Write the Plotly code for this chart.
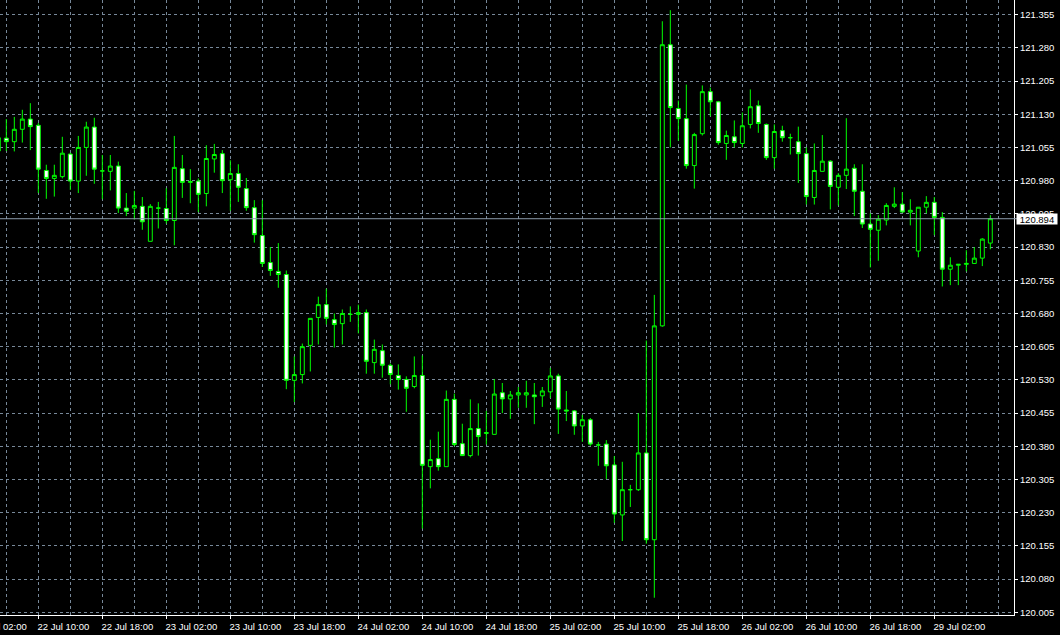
import pandas as pd
import plotly.graph_objects as go

# Hourly bars, 22 Jul 05:00 .. 26 Jul 23:00, then 29 Jul 00:00 .. 09:00 (weekend skipped)
times = list(pd.date_range("2019-07-22 05:00", "2019-07-26 23:00", freq="h")) + \
        list(pd.date_range("2019-07-29 00:00", "2019-07-29 09:00", freq="h"))

opens = [121.047, 121.076, 121.068, 121.096, 121.119, 121.105, 121.003, 120.985, 120.989, 121.040,
         120.979, 121.055, 121.101, 121.002, 121.001, 121.013, 120.918, 120.918, 120.922, 120.843,
         120.918, 120.917, 120.890, 121.007, 120.976, 120.979, 120.951, 121.029, 121.041, 120.982,
         120.996, 120.962, 120.919, 120.856, 120.795, 120.775, 120.768, 120.529, 120.542, 120.608,
         120.671, 120.700, 120.666, 120.657, 120.678, 120.678, 120.682, 120.569, 120.596, 120.563,
         120.540, 120.531, 120.515, 120.540, 120.334, 120.352, 120.334, 120.486, 120.386, 120.359,
         120.420, 120.409, 120.407, 120.501, 120.487, 120.496, 120.496, 120.496, 120.494, 120.503,
         120.539, 120.462, 120.460, 120.426, 120.440, 120.383, 120.385, 120.338, 120.225, 120.282,
         120.282, 120.365, 120.169, 120.652, 121.287, 121.143, 121.120, 121.014, 121.086, 121.181,
         121.158, 121.064, 121.079, 121.064, 121.107, 121.149, 121.107, 121.032, 121.093, 121.077,
         121.068, 121.041, 120.942, 121.001, 121.024, 120.965, 120.992, 121.008, 120.956, 120.882,
         120.868, 120.891, 120.922, 120.927, 120.909, 120.821, 120.920, 120.931, 120.897, 120.780,
         120.789, 120.791, 120.793, 120.805, 120.839]
highs = [121.090, 121.119, 121.124, 121.140, 121.155, 121.110, 121.016, 121.016, 121.079, 121.043,
         121.081, 121.113, 121.122, 121.038, 121.038, 121.023, 120.952, 120.957, 120.943, 120.927,
         120.932, 120.963, 121.081, 121.038, 121.006, 120.985, 121.060, 121.063, 121.049, 121.026,
         121.017, 120.986, 120.936, 120.936, 120.830, 120.839, 120.777, 120.583, 120.612, 120.669,
         120.718, 120.736, 120.680, 120.689, 120.696, 120.700, 120.689, 120.621, 120.610, 120.567,
         120.565, 120.538, 120.583, 120.585, 120.395, 120.413, 120.506, 120.499, 120.431, 120.486,
         120.477, 120.460, 120.532, 120.523, 120.505, 120.514, 120.528, 120.523, 120.514, 120.557,
         120.544, 120.505, 120.462, 120.451, 120.444, 120.390, 120.394, 120.358, 120.345, 120.293,
         120.455, 120.619, 120.722, 121.340, 121.365, 121.161, 121.197, 121.088, 121.195, 121.190,
         121.160, 121.093, 121.116, 121.134, 121.186, 121.161, 121.109, 121.107, 121.104, 121.086,
         121.102, 121.055, 121.064, 121.083, 121.026, 120.997, 121.121, 121.017, 121.017, 120.906,
         120.902, 120.929, 120.965, 120.954, 120.938, 120.920, 120.945, 120.943, 120.909, 120.807,
         120.791, 120.823, 120.830, 120.850, 120.902]
lows = [121.040, 121.047, 121.046, 121.066, 121.049, 120.952, 120.939, 120.944, 120.985, 120.959,
        120.952, 120.991, 120.973, 120.938, 120.958, 120.907, 120.900, 120.892, 120.869, 120.843,
        120.872, 120.883, 120.834, 120.941, 120.929, 120.909, 120.922, 120.998, 120.952, 120.912,
        120.932, 120.912, 120.840, 120.785, 120.765, 120.738, 120.509, 120.480, 120.522, 120.549,
        120.610, 120.655, 120.603, 120.610, 120.661, 120.635, 120.544, 120.544, 120.535, 120.520,
        120.508, 120.458, 120.511, 120.194, 120.285, 120.325, 120.334, 120.380, 120.359, 120.355,
        120.359, 120.384, 120.407, 120.455, 120.442, 120.467, 120.467, 120.430, 120.469, 120.489,
        120.408, 120.437, 120.406, 120.390, 120.381, 120.336, 120.306, 120.207, 120.166, 120.243,
        120.279, 120.160, 120.038, 120.650, 121.055, 121.070, 121.007, 120.962, 121.082, 121.125,
        121.061, 121.027, 121.055, 121.055, 121.098, 121.088, 121.027, 121.007, 121.068, 121.039,
        120.975, 120.926, 120.926, 121.001, 120.915, 120.924, 120.961, 120.900, 120.873, 120.784,
        120.799, 120.879, 120.918, 120.909, 120.879, 120.807, 120.906, 120.857, 120.741, 120.744,
        120.744, 120.775, 120.793, 120.787, 120.825]
closes = [121.077, 121.068, 121.096, 121.119, 121.102, 121.006, 120.985, 120.992, 121.042, 120.979,
          121.055, 121.101, 121.006, 121.002, 121.013, 120.918, 120.911, 120.924, 120.887, 120.922,
          120.918, 120.890, 121.010, 120.976, 120.978, 120.949, 121.030, 121.039, 120.980, 120.996,
          120.965, 120.919, 120.858, 120.793, 120.777, 120.768, 120.529, 120.542, 120.605, 120.669,
          120.700, 120.669, 120.655, 120.680, 120.678, 120.682, 120.572, 120.599, 120.563, 120.542,
          120.531, 120.511, 120.540, 120.337, 120.350, 120.334, 120.486, 120.384, 120.359, 120.420,
          120.402, 120.411, 120.498, 120.487, 120.496, 120.501, 120.501, 120.492, 120.505, 120.539,
          120.464, 120.460, 120.426, 120.440, 120.385, 120.383, 120.336, 120.227, 120.282, 120.282,
          120.365, 120.169, 120.652, 121.287, 121.145, 121.120, 121.014, 121.084, 121.181, 121.158,
          121.066, 121.082, 121.066, 121.104, 121.147, 121.109, 121.032, 121.091, 121.077, 121.077,
          121.041, 120.944, 121.003, 121.024, 120.967, 120.992, 121.006, 120.956, 120.882, 120.870,
          120.893, 120.924, 120.927, 120.909, 120.913, 120.920, 120.931, 120.897, 120.780, 120.789,
          120.791, 120.793, 120.805, 120.848, 120.894]

current_price = 120.894
price_tick0, price_step = 120.005, 0.075
y_range = [119.999, 121.388]

x_idx = list(range(len(times)))
tick_idx = [i for i, t in enumerate(times) if t.hour in (2, 10, 18)]
tick_text = [times[i].strftime("%d %b %H:%M") for i in tick_idx]
x_range = [0.21, 126.96]

FONT = "Liberation Sans, Arial, sans-serif"
GRID = "#778899"

fig = go.Figure(go.Candlestick(
    x=x_idx, open=opens, high=highs, low=lows, close=closes,
    increasing=dict(line=dict(color="#00FF00", width=1), fillcolor="#000000"),
    decreasing=dict(line=dict(color="#00FF00", width=1), fillcolor="#FFFFFF"),
    whiskerwidth=0, hoverinfo="skip", showlegend=False,
))

fig.add_shape(type="line", xref="paper", yref="y", x0=0, x1=1.003,
              y0=current_price, y1=current_price,
              line=dict(color="#8c9bab", width=1))

fig.add_annotation(xref="paper", yref="y", x=1, y=current_price, xanchor="left",
                   yanchor="middle", xshift=2, text=f"{current_price:.3f}", showarrow=False,
                   bgcolor="#FFFFFF", font=dict(color="#000000", size=9.5, family=FONT),
                   width=40, height=10, borderpad=0, align="center")

# first (clipped) time label, its tick lies left of the visible window
first_label = (times[0] - pd.Timedelta(hours=3)).strftime("%d %b %H:%M")
fig.add_annotation(xref="paper", yref="paper", x=(-3 - x_range[0]) / (x_range[1] - x_range[0]) - 0.001,
                   y=0, xanchor="left", yanchor="top", yshift=-4, text=first_label,
                   showarrow=False, font=dict(color="#FFFFFF", size=9.5, family=FONT))

fig.update_layout(
    width=1060, height=635,
    margin=dict(l=0, r=46, t=0, b=20),
    paper_bgcolor="#000000", plot_bgcolor="#000000",
    font=dict(family=FONT, size=9.5, color="#FFFFFF"),
    xaxis=dict(
        range=x_range, rangeslider=dict(visible=False),
        tickmode="array", tickvals=tick_idx, ticktext=tick_text,
        ticks="outside", ticklen=3, tickcolor="#FFFFFF", ticklabelshift=25,
        showline=True, linecolor="#FFFFFF", linewidth=1,
        showgrid=True, gridcolor=GRID, griddash="3px,3px", gridwidth=1,
        minor=dict(tick0=1, dtick=4, showgrid=True, gridcolor=GRID, griddash="3px,3px", ticks=""),
        zeroline=False, fixedrange=True,
    ),
    yaxis=dict(
        side="right", range=y_range, tick0=price_tick0, dtick=price_step, tickformat=".3f",
        ticks="outside", ticklen=3, tickcolor="#FFFFFF",
        showline=True, linecolor="#FFFFFF", linewidth=1,
        showgrid=True, gridcolor=GRID, griddash="3px,3px", gridwidth=1,
        zeroline=False, fixedrange=True,
    ),
    hovermode=False,
)

fig.write_html("out.html",
               config={"displayModeBar": False, "staticPlot": True},
               post_script="document.body.style.margin='0';document.body.style.background='#000';"
                           "document.body.style.overflow='hidden';")
